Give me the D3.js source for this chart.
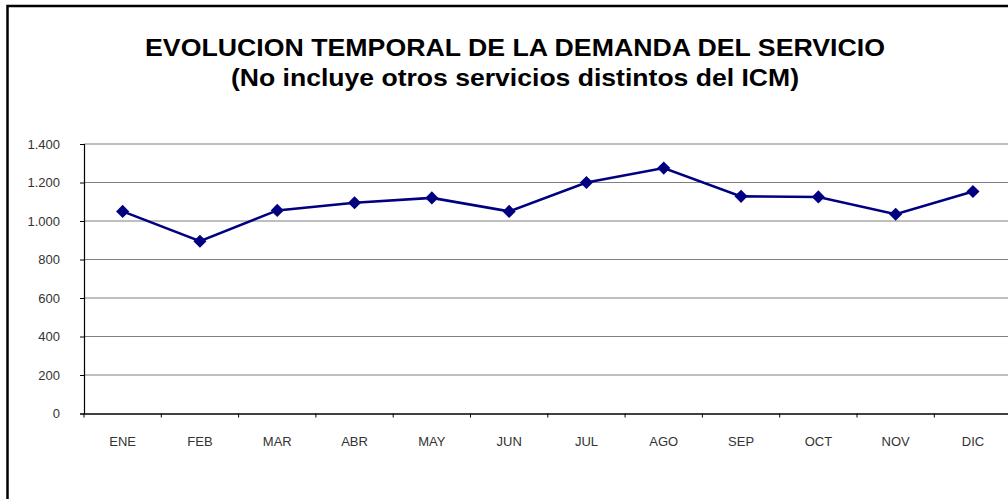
<!DOCTYPE html>
<html>
<head>
<meta charset="utf-8">
<script src="https://cdn.jsdelivr.net/npm/d3@7"></script>
<style>
  html, body { margin: 0; padding: 0; background: #fff; overflow: hidden; }
  text { font-family: "Liberation Sans", Arial, sans-serif; }
</style>
</head>
<body>
<div id="main"></div>
<script>
const months = ['ENE', 'FEB', 'MAR', 'ABR', 'MAY', 'JUN', 'JUL', 'AGO', 'SEP', 'OCT', 'NOV', 'DIC'];
const demand = [1050, 895, 1055, 1095, 1120, 1050, 1200, 1275, 1128, 1125, 1035, 1153];
const yTicks = [0, 200, 400, 600, 800, 1000, 1200, 1400];
const titleLines = ['EVOLUCION TEMPORAL DE LA DEMANDA DEL SERVICIO', '(No incluye otros servicios distintos del ICM)'];
const titleWidths = [740, 568];

const WIDTH = 1008, HEIGHT = 499;
const svg = d3.select('#main').append('svg').attr('width', WIDTH).attr('height', HEIGHT);

// chart frame (runs past the right and bottom edges)
svg.append('rect')
    .attr('x', 7.5).attr('y', 6)
    .attr('width', 1100).attr('height', 600)
    .attr('fill', 'none').attr('stroke', '#000').attr('stroke-width', 2.5);

svg.selectAll('text.title').data(titleLines).enter().append('text').attr('class', 'title')
    .attr('x', 515)
    .attr('y', (d, i) => 56 + i * 30)
    .attr('text-anchor', 'middle')
    .attr('font-size', 24.5)
    .attr('font-weight', 'bold')
    .attr('fill', '#000')
    .attr('textLength', (d, i) => titleWidths[i])
    .attr('lengthAdjust', 'spacingAndGlyphs')
    .text(d => d);

const x = d3.scaleBand().domain(months).range([84, 1011.6]).paddingInner(0).paddingOuter(0);
const y = d3.scaleLinear().domain([0, 1400]).range([413.5, 144]);

// horizontal gridlines
svg.append('g')
    .selectAll('line').data(yTicks.filter(d => d > 0)).enter().append('line')
    .attr('x1', 84).attr('x2', 1011.6)
    .attr('y1', d => y(d)).attr('y2', d => y(d))
    .attr('stroke', '#808080').attr('stroke-width', 1.2);

// y axis
const yAxis = svg.append('g').attr('transform', 'translate(84,0)')
    .call(d3.axisLeft(y).tickValues(yTicks).tickSize(4).tickPadding(20)
        .tickFormat(d => d3.format(',')(d).replace(/,/g, '.')));
yAxis.select('.domain').attr('stroke', '#000').attr('stroke-width', 1.2);
yAxis.selectAll('.tick line').attr('stroke', '#000');
yAxis.selectAll('.tick text').attr('font-size', 13).attr('fill', '#333')
    .attr('font-family', '"Liberation Sans", Arial, sans-serif');

// x axis
const xAxis = svg.append('g').attr('transform', `translate(0,${y(0)})`)
    .call(d3.axisBottom(x).tickSize(0).tickPadding(23));
xAxis.select('.domain').attr('stroke', '#000').attr('stroke-width', 1.5);
xAxis.selectAll('.tick text').attr('font-size', 13).attr('fill', '#333')
    .attr('font-family', '"Liberation Sans", Arial, sans-serif');
svg.append('g').selectAll('line').data(months).enter().append('line')
    .attr('x1', d => x(d)).attr('x2', d => x(d))
    .attr('y1', y(0)).attr('y2', y(0) + 4)
    .attr('stroke', '#000');

const cx = d => x(d) + x.bandwidth() / 2;
const points = months.map((m, i) => [cx(m), y(demand[i])]);

svg.append('path')
    .attr('d', d3.line()(points))
    .attr('fill', 'none')
    .attr('stroke', '#000080')
    .attr('stroke-width', 2.6);

svg.selectAll('path.marker').data(points).enter().append('path').attr('class', 'marker')
    .attr('transform', d => `translate(${d[0]},${d[1]})`)
    .attr('d', d3.symbol().type(d3.symbolDiamond2).size(110))
    .attr('fill', '#000080');
</script>
</body>
</html>
